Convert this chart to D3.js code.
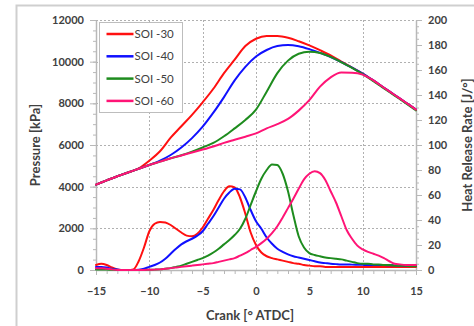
<!DOCTYPE html>
<html>
<head>
<meta charset="utf-8">
<script src="https://cdn.jsdelivr.net/npm/d3@7"></script>
<style>
  html, body { margin: 0; padding: 0; background: #fff; }
  svg { display: block; }
  text { font-family: Lato, "Open Sans", sans-serif; fill: #404040; }
</style>
</head>
<body>
<div id="chart"></div>
<script>
/* Pressure and heat release vs crank angle, four SOI settings */

const seriesNames = ['SOI -30', 'SOI -40', 'SOI -50', 'SOI -60'];
const seriesColors = ['#ff1010', '#1010ff', '#1e8c1e', '#ff1476'];

// crank angle for the pressure traces (deg ATDC)
const crankP = [-15, -14, -13, -12, -11, -10, -9, -8, -7, -6, -5, -4, -3, -2, -1, 0,
    1, 2, 3, 4, 5, 6, 7, 8, 9, 10, 11, 12, 13, 14, 15];

// cylinder pressure, kPa
const pSoi30 = [4100, 4300, 4500, 4680, 4880, 5250, 5700, 6350, 6900, 7450, 8050, 8700, 9450, 10100, 10750, 11100,
    11230, 11230, 11150, 10980, 10780, 10550, 10300, 10000, 9720, 9430, 9100, 8750, 8400, 8050, 7700];
const pSoi40 = [4100, 4300, 4500, 4680, 4860, 5040, 5250, 5520, 5880, 6330, 6880, 7550, 8300, 9100, 9750, 10250,
    10560, 10750, 10800, 10740, 10600, 10420, 10220, 9980, 9710, 9430, 9100, 8750, 8400, 8050, 7700];
const pSoi50 = [4100, 4300, 4500, 4680, 4860, 5040, 5200, 5360, 5510, 5680, 5880, 6100, 6420, 6800, 7200, 7700,
    8560, 9450, 10050, 10380, 10480, 10420, 10230, 9970, 9700, 9400, 9070, 8720, 8370, 8020, 7660];
const pSoi60 = [4100, 4300, 4500, 4680, 4860, 5040, 5200, 5360, 5500, 5640, 5780, 5930, 6100, 6250, 6400, 6560,
    6800, 7000, 7250, 7650, 8150, 8800, 9250, 9480, 9470, 9380, 9100, 8750, 8400, 8050, 7700];

// crank angle for the heat release traces (deg ATDC)
const crankH = [-15, -14.5, -14, -13.5, -13, -12.5, -12, -11.5, -11, -10.5, -10, -9.5, -9, -8.5, -8, -7.5,
    -7, -6.5, -6, -5.5, -5, -4.5, -4, -3.5, -3, -2.5, -2, -1.5, -1, -0.5, 0,
    0.5, 1, 1.5, 2, 2.5, 3, 3.5, 4, 4.5, 5, 5.5, 6, 6.5, 7, 7.5,
    8, 8.5, 9, 9.5, 10, 10.5, 11, 11.5, 12, 12.5, 13, 13.5, 14, 14.5, 15];

// heat release rate, J/deg
const hSoi30 = [4, 5, 4, 2, 0.5, 0, 0, 0.5, 7, 18, 31, 37, 38.5, 38, 36, 33,
    30, 27.5, 27, 29, 34, 41, 48, 56, 63, 67, 66, 58, 45, 30, 20,
    14, 11, 9.5, 8.5, 7.5, 6.5, 5.5, 5, 4, 3.5, 3, 3, 2.5, 2.5, 2.5,
    2.5, 2.5, 2.5, 2.5, 2.5, 2.5, 2.5, 2.5, 2.5, 2.5, 2.5, 2.5, 2.5, 2.5, 2.5];
const hSoi40 = [2.5, 2.5, 2, 1, 0.5, 0, 0, 0, 0.3, 1, 2.5, 4, 6, 9, 13, 17,
    20.5, 23, 25, 27.5, 31, 37, 43, 50, 57, 62, 65, 64.5, 58, 48, 39,
    33, 26, 21, 17, 14.5, 12.5, 11, 10, 9, 8, 7, 6, 5.5, 5, 4.7,
    4.5, 4.5, 4.3, 4.2, 4.1, 4, 4, 4, 4, 3.8, 3.7, 3.6, 3.5, 3.5, 3.5];
const hSoi50 = [0.5, 0.5, 0.3, 0.2, 0, 0, 0, 0, 0, 0, 0.2, 0.3, 0.5, 1, 1.5, 2.5,
    3.5, 5, 6.5, 8, 9.5, 11.5, 14, 17, 20.5, 24, 28, 33, 41, 52, 63,
    73, 80, 84.5, 84, 77, 63, 44, 27, 18, 13.5, 12, 11, 10, 9.5, 9,
    8.5, 7.5, 6.5, 5.5, 5, 5, 4.5, 4.5, 4, 4, 3.5, 3.5, 3.5, 3, 3];
const hSoi60 = [1.5, 1.5, 1, 0.5, 0, 0, 0, 0, 0, 0, 0.2, 0.3, 0.5, 1, 1.5, 2,
    2.5, 3, 3.5, 4, 4.5, 5, 5.5, 6.5, 7.5, 8.5, 9.5, 11.5, 13.5, 16, 18.5,
    21.5, 25, 29.5, 35, 42, 49.5, 57, 65, 72.5, 77, 79, 77.5, 72, 63, 54,
    43, 32, 25, 19.5, 16.5, 14.5, 13, 11.5, 9.5, 7, 5, 4.5, 4, 4, 4];

const xTicks = [-15, -10, -5, 0, 5, 10, 15];
const pTicks = [0, 2000, 4000, 6000, 8000, 10000, 12000];
const hTicks = [0, 20, 40, 60, 80, 100, 120, 140, 160, 180, 200];

const pressure = [pSoi30, pSoi40, pSoi50, pSoi60];
const heat = [hSoi30, hSoi40, hSoi50, hSoi60];

const W = 474, H = 326;
const margin = { top: 20, right: 58, bottom: 56, left: 96 };
const innerW = W - margin.left - margin.right;
const innerH = H - margin.top - margin.bottom;

const svg = d3.select('#chart').append('svg')
    .attr('width', W)
    .attr('height', H);

// outer frame (cut off by the picture on the right and bottom)
svg.append('rect')
    .attr('x', 16.5).attr('y', 5.5)
    .attr('width', 520).attr('height', 400)
    .attr('fill', 'none')
    .attr('stroke', '#cfcfcf')
    .attr('stroke-width', 2);

const g = svg.append('g')
    .attr('transform', `translate(${margin.left},${margin.top})`);

const x = d3.scaleLinear().domain([-15, 15]).range([0, innerW]);
const yP = d3.scaleLinear().domain([0, 12000]).range([innerH, 0]);
const yH = d3.scaleLinear().domain([0, 200]).range([innerH, 0]);

// dotted grid
g.append('g')
    .selectAll('line')
    .data(pTicks.filter(d => d > 0))
    .enter().append('line')
    .attr('x1', 0).attr('x2', innerW)
    .attr('y1', d => Math.round(yP(d)) + 0.5)
    .attr('y2', d => Math.round(yP(d)) + 0.5)
    .attr('stroke', '#b0b0b0')
    .attr('stroke-dasharray', '2,2');

g.append('g')
    .selectAll('line')
    .data(xTicks.filter(d => d > -15 && d < 15))
    .enter().append('line')
    .attr('x1', d => Math.round(x(d)) + 0.5)
    .attr('x2', d => Math.round(x(d)) + 0.5)
    .attr('y1', 0).attr('y2', innerH)
    .attr('stroke', '#b0b0b0')
    .attr('stroke-dasharray', '2,2');

// minor ticks
const axisColor = '#b8b8b8';
g.append('g')
    .attr('transform', `translate(0,${innerH})`)
    .call(d3.axisBottom(x).ticks(30).tickSize(4).tickFormat(''))
    .call(a => a.select('.domain').remove())
    .selectAll('line').attr('stroke', axisColor);
g.append('g')
    .call(d3.axisLeft(yP).ticks(24).tickSize(3).tickFormat(''))
    .call(a => a.select('.domain').remove())
    .selectAll('line').attr('stroke', axisColor);
g.append('g')
    .attr('transform', `translate(${innerW},0)`)
    .call(d3.axisRight(yH).ticks(40).tickSize(3).tickFormat(''))
    .call(a => a.select('.domain').remove())
    .selectAll('line').attr('stroke', axisColor);

// major axes
const styleAxis = a => {
    a.select('.domain').attr('stroke', axisColor).attr('stroke-width', 1.5);
    a.selectAll('.tick line').attr('stroke', axisColor);
    a.selectAll('.tick text')
        .attr('fill', '#3a3a3a')
        .style('font-size', '11px')
        .style('font-weight', 'bold')
        .style('font-family', 'Lato, sans-serif');
};

g.append('g')
    .attr('transform', `translate(0,${innerH})`)
    .call(d3.axisBottom(x).tickValues(xTicks).tickSize(5).tickSizeOuter(0).tickPadding(12))
    .call(styleAxis);

g.append('g')
    .call(d3.axisLeft(yP).tickValues(pTicks).tickSize(6).tickSizeOuter(0).tickPadding(6).tickFormat(d3.format('d')))
    .call(styleAxis);

g.append('g')
    .attr('transform', `translate(${innerW},0)`)
    .call(d3.axisRight(yH).tickValues(hTicks).tickSize(6).tickSizeOuter(0).tickPadding(6))
    .call(styleAxis);

// curves
const lineP = d3.line()
    .x((d, i) => x(crankP[i]))
    .y(d => yP(d))
    .curve(d3.curveMonotoneX);
const lineH = d3.line()
    .x((d, i) => x(crankH[i]))
    .y(d => yH(d))
    .curve(d3.curveMonotoneX);

const curves = g.append('g').attr('fill', 'none').attr('stroke-width', 2)
    .attr('stroke-linejoin', 'round').attr('stroke-linecap', 'round');

pressure.forEach((s, i) => {
    curves.append('path').attr('d', lineP(s)).attr('stroke', seriesColors[i]);
});
heat.forEach((s, i) => {
    curves.append('path').attr('d', lineH(s)).attr('stroke', seriesColors[i]);
});

// axis titles
const titleSize = '13px';
svg.append('text')
    .attr('transform', `translate(40,${margin.top + innerH / 2}) rotate(-90)`)
    .attr('text-anchor', 'middle')
    .style('font-size', titleSize)
    .style('font-weight', 'bold')
    .text('Pressure [kPa]');

svg.append('text')
    .attr('transform', `translate(472,${margin.top + innerH / 2}) rotate(-90)`)
    .attr('text-anchor', 'middle')
    .style('font-size', titleSize)
    .style('font-weight', 'bold')
    .text('Heat Release Rate [J/°]');

svg.append('text')
    .attr('x', 250).attr('y', 320)
    .attr('text-anchor', 'middle')
    .style('font-size', titleSize)
    .style('font-weight', 'bold')
    .text('Crank [° ATDC]');

// legend
const legend = svg.append('g').attr('transform', 'translate(99.5,22.5)');
legend.append('rect')
    .attr('width', 83).attr('height', 90)
    .attr('fill', '#fff')
    .attr('stroke', '#bdbdbd');

const entries = legend.selectAll('.entry')
    .data(seriesNames)
    .enter().append('g')
    .attr('transform', (d, i) => `translate(0,${11.5 + i * 22.3})`);
entries.append('line')
    .attr('x1', 7).attr('x2', 34)
    .attr('stroke', (d, i) => seriesColors[i])
    .attr('stroke-width', 2.5);
entries.append('text')
    .attr('x', 35).attr('y', 4)
    .style('font-size', '11.5px')
    .text(d => d);
</script>
</body>
</html>
